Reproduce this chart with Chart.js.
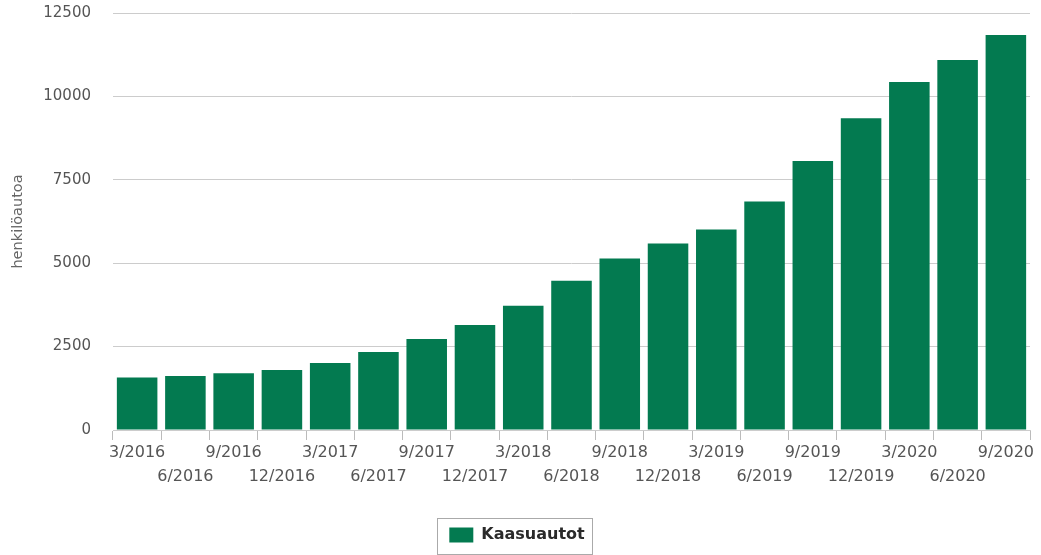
<!DOCTYPE html>
<html>
<head>
<meta charset="utf-8">
<script src="https://cdn.jsdelivr.net/npm/chart.js@4"></script>
<style>
  html, body { margin: 0; padding: 0; background: #fff; }
  #wrap { width: 1041px; height: 555px; position: relative; }
</style>
</head>
<body>
<div id="wrap"><canvas id="kaasuautot"></canvas></div>
<script>
// Neljännekset ja kaasuautojen määrä
const quarters = ['3/2016', '6/2016', '9/2016', '12/2016', '3/2017', '6/2017', '9/2017', '12/2017',
    '3/2018', '6/2018', '9/2018', '12/2018', '3/2019', '6/2019', '9/2019', '12/2019',
    '3/2020', '6/2020', '9/2020'];
const gasCars = [1570, 1615, 1700, 1795, 2005, 2340, 2730, 3150, 3725, 4475, 5140, 5590,
    6010, 6850, 8060, 9345, 10430, 11090, 11840];
const yTicks = [0, 2500, 5000, 7500, 10000, 12500];

const GREEN = '#037a50';

// kehys legendan ympärille
const legendFrame = {
    id: 'legendFrame',
    afterDraw(chart) {
        const lg = chart.legend;
        if (!lg || !lg.legendHitBoxes.length) return;
        const hb = lg.legendHitBoxes[0];
        const ctx = chart.ctx;
        ctx.save();
        ctx.strokeStyle = '#aaa';
        ctx.lineWidth = 1;
        ctx.strokeRect(Math.round(hb.left - 12) + 0.5, Math.round(hb.top - 9) + 0.5,
            Math.round(hb.width + 20), Math.round(hb.height + 20));
        ctx.restore();
    }
};

new Chart(document.getElementById('kaasuautot'), {
    type: 'bar',
    data: {
        labels: quarters,
        datasets: [{
            label: 'Kaasuautot',
            data: gasCars,
            backgroundColor: GREEN,
            borderWidth: 0,
            barPercentage: 0.84,
            categoryPercentage: 1
        }]
    },
    options: {
        responsive: true,
        maintainAspectRatio: false,
        animation: false,
        layout: { padding: { left: 4, right: 11, top: 13, bottom: 2 } },
        plugins: {
            tooltip: { enabled: false },
            legend: {
                position: 'bottom',
                onClick: null,
                labels: {
                    boxWidth: 24,
                    boxHeight: 15,
                    color: '#2a2a2a',
                    padding: 10,
                    font: { family: 'DejaVu Sans', size: 16, weight: 'bold' }
                }
            }
        },
        scales: {
            x: {
                afterFit: scale => { scale.height += 27; },
                grid: {
                    offset: true,
                    drawOnChartArea: false,
                    tickLength: 10,
                    color: '#bbb'
                },
                border: { color: '#ccc' },
                ticks: {
                    autoSkip: false,
                    maxRotation: 0,
                    minRotation: 0,
                    padding: 1,
                    color: '#555',
                    font: { family: 'DejaVu Sans', size: 16, lineHeight: 1.5 },
                    callback: function (value, index) {
                        const l = this.getLabelForValue(value);
                        return index % 2 === 0 ? l : ['', l];
                    }
                }
            },
            y: {
                min: 0,
                max: yTicks[yTicks.length - 1],
                afterBuildTicks: scale => { scale.ticks = yTicks.map(v => ({ value: v })); },
                afterFit: scale => { scale.width = 109; },
                grid: { color: '#ccc', tickColor: 'transparent', tickLength: 22 },
                border: { display: false },
                ticks: {
                    padding: 0,
                    color: '#555',
                    font: { family: 'DejaVu Sans', size: 15 },
                    callback: v => String(v)
                },
                title: {
                    display: true,
                    text: 'henkilöautoa',
                    color: '#666',
                    padding: { top: 6, bottom: 0 },
                    font: { family: 'DejaVu Sans', size: 14.5 }
                }
            }
        }
    },
    plugins: [legendFrame]
});
</script>
</body>
</html>
